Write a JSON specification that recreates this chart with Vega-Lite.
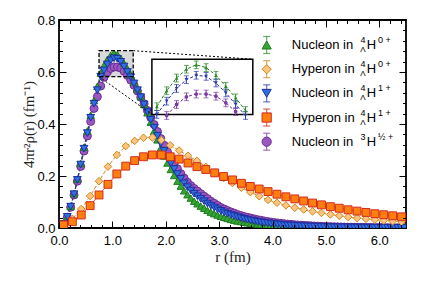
{
"$schema":"https://vega.github.io/schema/vega-lite/v6.json",
"width":347,"height":208,
"autosize":{"type":"none"},
"padding":{"left":59,"top":20,"right":15,"bottom":53},
"background":"white",
"config":{"view":{"stroke":"black","strokeWidth":1.8},
 "axis":{"domain":false,"grid":false,"zindex":1,"labelFont":"Liberation Sans","labelFontSize":13,"labelColor":"black","tickColor":"black","tickWidth":1,"labelOverlap":false,"labelFlush":false,"labelBound":false,"titleFont":"Liberation Serif","titleFontSize":15,"titleFontWeight":"normal","titleColor":"#222"}},
"datasets":{
"box":[{"x1":0.75,"x2":1.39,"y1":0.582,"y2":0.682}],
"con":[{"g":"a","r":0.75,"v":0.582},{"g":"a","r":1.74,"v":0.437},{"g":"b","r":1.39,"v":0.682},{"g":"b","r":3.63,"v":0.649}],
"leg":[{"s":"g","t":"Nucleon in","a":"4","b":"Λ","c":"0 +"},{"s":"d","t":"Hyperon in","a":"4","b":"Λ","c":"0 +"},{"s":"b","t":"Nucleon in","a":"4","b":"Λ","c":"1 +"},{"s":"q","t":"Hyperon in","a":"4","b":"Λ","c":"1 +"},{"s":"p","t":"Nucleon in","a":"3","b":"","c":"½ +"}],
"ins":[
{"s":"g","r":0.7813,"v":0.596,"e":0.007},{"s":"g","r":0.8438,"v":0.625,"e":0.007},{"s":"g","r":0.9063,"v":0.648,"e":0.007},{"s":"g","r":0.9688,"v":0.664,"e":0.007},{"s":"g","r":1.0313,"v":0.672,"e":0.007},{"s":"g","r":1.0938,"v":0.667,"e":0.007},{"s":"g","r":1.1563,"v":0.653,"e":0.007},{"s":"g","r":1.2188,"v":0.633,"e":0.007},{"s":"g","r":1.2813,"v":0.612,"e":0.007},{"s":"g","r":1.3438,"v":0.589,"e":0.007},
{"s":"b","r":0.7813,"v":0.582,"e":0.007},{"s":"b","r":0.8438,"v":0.606,"e":0.007},{"s":"b","r":0.9063,"v":0.629,"e":0.007},{"s":"b","r":0.9688,"v":0.645,"e":0.007},{"s":"b","r":1.0313,"v":0.653,"e":0.007},{"s":"b","r":1.0938,"v":0.651,"e":0.007},{"s":"b","r":1.1563,"v":0.639,"e":0.007},{"s":"b","r":1.2188,"v":0.621,"e":0.007},{"s":"b","r":1.2813,"v":0.6,"e":0.007},{"s":"b","r":1.3438,"v":0.58,"e":0.007},
{"s":"p","r":0.8438,"v":0.58,"e":0.007},{"s":"p","r":0.9063,"v":0.6,"e":0.007},{"s":"p","r":0.9688,"v":0.614,"e":0.007},{"s":"p","r":1.0313,"v":0.619,"e":0.007},{"s":"p","r":1.0938,"v":0.619,"e":0.007},{"s":"p","r":1.1563,"v":0.615,"e":0.007},{"s":"p","r":1.2188,"v":0.603,"e":0.007},{"s":"p","r":1.2813,"v":0.587,"e":0.007}
],
"m":[
{"s":"p","r":0.0313,"v":0.002},{"s":"p","r":0.0938,"v":0.015},{"s":"p","r":0.1563,"v":0.041},{"s":"p","r":0.2188,"v":0.08},{"s":"p","r":0.2813,"v":0.127},{"s":"p","r":0.3438,"v":0.18},{"s":"p","r":0.4063,"v":0.237},{"s":"p","r":0.4688,"v":0.296},{"s":"p","r":0.5313,"v":0.354},{"s":"p","r":0.5938,"v":0.41},
{"s":"p","r":0.6563,"v":0.46},{"s":"p","r":0.7188,"v":0.505},{"s":"p","r":0.7813,"v":0.546},{"s":"p","r":0.8438,"v":0.58},{"s":"p","r":0.9063,"v":0.6},{"s":"p","r":0.9688,"v":0.614},{"s":"p","r":1.0313,"v":0.619},{"s":"p","r":1.0938,"v":0.619},{"s":"p","r":1.1563,"v":0.615},{"s":"p","r":1.2188,"v":0.603},
{"s":"p","r":1.2813,"v":0.587},{"s":"p","r":1.3438,"v":0.569},{"s":"p","r":1.4063,"v":0.549},{"s":"p","r":1.4688,"v":0.527},{"s":"p","r":1.5313,"v":0.503},{"s":"p","r":1.5938,"v":0.478},{"s":"p","r":1.6563,"v":0.452},{"s":"p","r":1.7188,"v":0.425},{"s":"p","r":1.7813,"v":0.398},{"s":"p","r":1.8438,"v":0.371},
{"s":"p","r":1.9063,"v":0.344},{"s":"p","r":1.9688,"v":0.318},{"s":"p","r":2.0313,"v":0.293},{"s":"p","r":2.0938,"v":0.27},{"s":"p","r":2.1563,"v":0.248},{"s":"p","r":2.2188,"v":0.228},{"s":"p","r":2.2813,"v":0.209},{"s":"p","r":2.3438,"v":0.192},{"s":"p","r":2.4063,"v":0.176},{"s":"p","r":2.4688,"v":0.163},
{"s":"p","r":2.5313,"v":0.152},{"s":"p","r":2.5938,"v":0.142},{"s":"p","r":2.6563,"v":0.132},{"s":"p","r":2.7188,"v":0.122},{"s":"p","r":2.7813,"v":0.113},{"s":"p","r":2.8438,"v":0.103},{"s":"p","r":2.9063,"v":0.095},{"s":"p","r":2.9688,"v":0.087},{"s":"p","r":3.0313,"v":0.079},{"s":"p","r":3.0938,"v":0.073},
{"s":"p","r":3.1563,"v":0.067},{"s":"p","r":3.2188,"v":0.062},{"s":"p","r":3.2813,"v":0.057},{"s":"p","r":3.3438,"v":0.052},{"s":"p","r":3.4063,"v":0.048},{"s":"p","r":3.4688,"v":0.044},{"s":"p","r":3.5313,"v":0.041},{"s":"p","r":3.5938,"v":0.038},{"s":"p","r":3.6563,"v":0.035},{"s":"p","r":3.7188,"v":0.032},
{"s":"p","r":3.7813,"v":0.03},{"s":"p","r":3.8438,"v":0.027},{"s":"p","r":3.9063,"v":0.025},{"s":"p","r":3.9688,"v":0.023},{"s":"p","r":4.0313,"v":0.021},{"s":"p","r":4.0938,"v":0.0195},{"s":"p","r":4.1563,"v":0.018},{"s":"p","r":4.2188,"v":0.0165},{"s":"p","r":4.2813,"v":0.015},{"s":"p","r":4.3438,"v":0.014},
{"s":"p","r":4.4063,"v":0.0128},{"s":"p","r":4.4688,"v":0.0118},{"s":"p","r":4.5313,"v":0.0108},{"s":"p","r":4.5938,"v":0.01},{"s":"p","r":4.6563,"v":0.0092},{"s":"p","r":4.7188,"v":0.0085},{"s":"p","r":4.7813,"v":0.0078},{"s":"p","r":4.8438,"v":0.0072},{"s":"p","r":4.9063,"v":0.0066},{"s":"p","r":4.9688,"v":0.0061},
{"s":"p","r":5.0313,"v":0.0056},{"s":"p","r":5.0938,"v":0.0052},{"s":"p","r":5.1563,"v":0.0048},{"s":"p","r":5.2188,"v":0.0044},{"s":"p","r":5.2813,"v":0.004},{"s":"p","r":5.3438,"v":0.0037},{"s":"p","r":5.4063,"v":0.0034},{"s":"p","r":5.4688,"v":0.0031},{"s":"p","r":5.5313,"v":0.0029},{"s":"p","r":5.5938,"v":0.0027},
{"s":"p","r":5.6563,"v":0.0025},{"s":"p","r":5.7188,"v":0.0023},{"s":"p","r":5.7813,"v":0.0021},{"s":"p","r":5.8438,"v":0.0019},{"s":"p","r":5.9063,"v":0.0018},{"s":"p","r":5.9688,"v":0.0016},{"s":"p","r":6.0313,"v":0.0015},{"s":"p","r":6.0938,"v":0.0014},{"s":"p","r":6.1563,"v":0.0013},{"s":"p","r":6.2188,"v":0.0012},
{"s":"p","r":6.2813,"v":0.0011},{"s":"p","r":6.3438,"v":0.001},{"s":"p","r":6.4063,"v":0.0009},{"s":"p","r":6.4688,"v":0.0008},
{"s":"g","r":0.0313,"v":0.002},{"s":"g","r":0.0938,"v":0.016},{"s":"g","r":0.1563,"v":0.043},{"s":"g","r":0.2188,"v":0.083},{"s":"g","r":0.2813,"v":0.132},{"s":"g","r":0.3438,"v":0.188},{"s":"g","r":0.4063,"v":0.248},{"s":"g","r":0.4688,"v":0.311},{"s":"g","r":0.5313,"v":0.373},{"s":"g","r":0.5938,"v":0.434},
{"s":"g","r":0.6563,"v":0.49},{"s":"g","r":0.7188,"v":0.545},{"s":"g","r":0.7813,"v":0.596},{"s":"g","r":0.8438,"v":0.625},{"s":"g","r":0.9063,"v":0.648},{"s":"g","r":0.9688,"v":0.664},{"s":"g","r":1.0313,"v":0.672},{"s":"g","r":1.0938,"v":0.667},{"s":"g","r":1.1563,"v":0.653},{"s":"g","r":1.2188,"v":0.633},
{"s":"g","r":1.2813,"v":0.612},{"s":"g","r":1.3438,"v":0.589},{"s":"g","r":1.4063,"v":0.562},{"s":"g","r":1.4688,"v":0.535},{"s":"g","r":1.5313,"v":0.505},{"s":"g","r":1.5938,"v":0.475},{"s":"g","r":1.6563,"v":0.443},{"s":"g","r":1.7188,"v":0.407},{"s":"g","r":1.7813,"v":0.372},{"s":"g","r":1.8438,"v":0.339},
{"s":"g","r":1.9063,"v":0.307},{"s":"g","r":1.9688,"v":0.277},{"s":"g","r":2.0313,"v":0.25},{"s":"g","r":2.0938,"v":0.225},{"s":"g","r":2.1563,"v":0.202},{"s":"g","r":2.2188,"v":0.18},{"s":"g","r":2.2813,"v":0.161},{"s":"g","r":2.3438,"v":0.143},{"s":"g","r":2.4063,"v":0.128},{"s":"g","r":2.4688,"v":0.115},
{"s":"g","r":2.5313,"v":0.103},{"s":"g","r":2.5938,"v":0.093},{"s":"g","r":2.6563,"v":0.084},{"s":"g","r":2.7188,"v":0.076},{"s":"g","r":2.7813,"v":0.068},{"s":"g","r":2.8438,"v":0.061},{"s":"g","r":2.9063,"v":0.055},{"s":"g","r":2.9688,"v":0.05},{"s":"g","r":3.0313,"v":0.045},{"s":"g","r":3.0938,"v":0.041},
{"s":"g","r":3.1563,"v":0.037},{"s":"g","r":3.2188,"v":0.033},{"s":"g","r":3.2813,"v":0.03},{"s":"g","r":3.3438,"v":0.027},{"s":"g","r":3.4063,"v":0.025},{"s":"g","r":3.4688,"v":0.022},{"s":"g","r":3.5313,"v":0.02},{"s":"g","r":3.5938,"v":0.018},{"s":"g","r":3.6563,"v":0.0165},{"s":"g","r":3.7188,"v":0.015},
{"s":"g","r":3.7813,"v":0.0135},{"s":"g","r":3.8438,"v":0.0122},{"s":"g","r":3.9063,"v":0.011},{"s":"g","r":3.9688,"v":0.01},{"s":"g","r":4.0313,"v":0.009},{"s":"g","r":4.0938,"v":0.0082},{"s":"g","r":4.1563,"v":0.0074},{"s":"g","r":4.2188,"v":0.0067},{"s":"g","r":4.2813,"v":0.006},{"s":"g","r":4.3438,"v":0.0054},
{"s":"g","r":4.4063,"v":0.0049},{"s":"g","r":4.4688,"v":0.0044},{"s":"g","r":4.5313,"v":0.004},{"s":"g","r":4.5938,"v":0.0036},{"s":"g","r":4.6563,"v":0.0033},{"s":"g","r":4.7188,"v":0.003},{"s":"g","r":4.7813,"v":0.0027},{"s":"g","r":4.8438,"v":0.0024},{"s":"g","r":4.9063,"v":0.0022},{"s":"g","r":4.9688,"v":0.002},
{"s":"g","r":5.0313,"v":0.0018},{"s":"g","r":5.0938,"v":0.0016},{"s":"g","r":5.1563,"v":0.0015},{"s":"g","r":5.2188,"v":0.0013},{"s":"g","r":5.2813,"v":0.0012},{"s":"g","r":5.3438,"v":0.0011},{"s":"g","r":5.4063,"v":0.001},{"s":"g","r":5.4688,"v":0.0009},{"s":"g","r":5.5313,"v":0.0008},{"s":"g","r":5.5938,"v":0.0008},
{"s":"g","r":5.6563,"v":0.0007},{"s":"g","r":5.7188,"v":0.0006},{"s":"g","r":5.7813,"v":0.0006},{"s":"g","r":5.8438,"v":0.0005},{"s":"g","r":5.9063,"v":0.0005},{"s":"g","r":5.9688,"v":0.0004},{"s":"g","r":6.0313,"v":0.0004},{"s":"g","r":6.0938,"v":0.0004},{"s":"g","r":6.1563,"v":0.0003},{"s":"g","r":6.2188,"v":0.0003},
{"s":"g","r":6.2813,"v":0.0003},{"s":"g","r":6.3438,"v":0.0002},{"s":"g","r":6.4063,"v":0.0002},{"s":"g","r":6.4688,"v":0.0002},
{"s":"b","r":0.0313,"v":0.002},{"s":"b","r":0.0938,"v":0.016},{"s":"b","r":0.1563,"v":0.043},{"s":"b","r":0.2188,"v":0.082},{"s":"b","r":0.2813,"v":0.13},{"s":"b","r":0.3438,"v":0.185},{"s":"b","r":0.4063,"v":0.244},{"s":"b","r":0.4688,"v":0.305},{"s":"b","r":0.5313,"v":0.365},{"s":"b","r":0.5938,"v":0.424},
{"s":"b","r":0.6563,"v":0.478},{"s":"b","r":0.7188,"v":0.53},{"s":"b","r":0.7813,"v":0.582},{"s":"b","r":0.8438,"v":0.606},{"s":"b","r":0.9063,"v":0.629},{"s":"b","r":0.9688,"v":0.645},{"s":"b","r":1.0313,"v":0.653},{"s":"b","r":1.0938,"v":0.651},{"s":"b","r":1.1563,"v":0.639},{"s":"b","r":1.2188,"v":0.621},
{"s":"b","r":1.2813,"v":0.6},{"s":"b","r":1.3438,"v":0.58},{"s":"b","r":1.4063,"v":0.556},{"s":"b","r":1.4688,"v":0.53},{"s":"b","r":1.5313,"v":0.503},{"s":"b","r":1.5938,"v":0.475},{"s":"b","r":1.6563,"v":0.446},{"s":"b","r":1.7188,"v":0.416},{"s":"b","r":1.7813,"v":0.386},{"s":"b","r":1.8438,"v":0.355},
{"s":"b","r":1.9063,"v":0.325},{"s":"b","r":1.9688,"v":0.297},{"s":"b","r":2.0313,"v":0.271},{"s":"b","r":2.0938,"v":0.248},{"s":"b","r":2.1563,"v":0.227},{"s":"b","r":2.2188,"v":0.207},{"s":"b","r":2.2813,"v":0.189},{"s":"b","r":2.3438,"v":0.172},{"s":"b","r":2.4063,"v":0.157},{"s":"b","r":2.4688,"v":0.144},
{"s":"b","r":2.5313,"v":0.132},{"s":"b","r":2.5938,"v":0.122},{"s":"b","r":2.6563,"v":0.112},{"s":"b","r":2.7188,"v":0.103},{"s":"b","r":2.7813,"v":0.094},{"s":"b","r":2.8438,"v":0.086},{"s":"b","r":2.9063,"v":0.079},{"s":"b","r":2.9688,"v":0.072},{"s":"b","r":3.0313,"v":0.066},{"s":"b","r":3.0938,"v":0.06},
{"s":"b","r":3.1563,"v":0.055},{"s":"b","r":3.2188,"v":0.05},{"s":"b","r":3.2813,"v":0.046},{"s":"b","r":3.3438,"v":0.042},{"s":"b","r":3.4063,"v":0.038},{"s":"b","r":3.4688,"v":0.035},{"s":"b","r":3.5313,"v":0.032},{"s":"b","r":3.5938,"v":0.029},{"s":"b","r":3.6563,"v":0.0265},{"s":"b","r":3.7188,"v":0.024},
{"s":"b","r":3.7813,"v":0.022},{"s":"b","r":3.8438,"v":0.02},{"s":"b","r":3.9063,"v":0.0183},{"s":"b","r":3.9688,"v":0.0167},{"s":"b","r":4.0313,"v":0.0152},{"s":"b","r":4.0938,"v":0.0139},{"s":"b","r":4.1563,"v":0.0127},{"s":"b","r":4.2188,"v":0.0116},{"s":"b","r":4.2813,"v":0.0106},{"s":"b","r":4.3438,"v":0.0097},
{"s":"b","r":4.4063,"v":0.0088},{"s":"b","r":4.4688,"v":0.008},{"s":"b","r":4.5313,"v":0.0073},{"s":"b","r":4.5938,"v":0.0067},{"s":"b","r":4.6563,"v":0.0061},{"s":"b","r":4.7188,"v":0.0056},{"s":"b","r":4.7813,"v":0.0051},{"s":"b","r":4.8438,"v":0.0047},{"s":"b","r":4.9063,"v":0.0043},{"s":"b","r":4.9688,"v":0.0039},
{"s":"b","r":5.0313,"v":0.0036},{"s":"b","r":5.0938,"v":0.0033},{"s":"b","r":5.1563,"v":0.003},{"s":"b","r":5.2188,"v":0.0027},{"s":"b","r":5.2813,"v":0.0025},{"s":"b","r":5.3438,"v":0.0023},{"s":"b","r":5.4063,"v":0.0021},{"s":"b","r":5.4688,"v":0.0019},{"s":"b","r":5.5313,"v":0.0017},{"s":"b","r":5.5938,"v":0.0016},
{"s":"b","r":5.6563,"v":0.0015},{"s":"b","r":5.7188,"v":0.0013},{"s":"b","r":5.7813,"v":0.0012},{"s":"b","r":5.8438,"v":0.0011},{"s":"b","r":5.9063,"v":0.001},{"s":"b","r":5.9688,"v":0.0009},{"s":"b","r":6.0313,"v":0.0008},{"s":"b","r":6.0938,"v":0.0008},{"s":"b","r":6.1563,"v":0.0007},{"s":"b","r":6.2188,"v":0.0007},
{"s":"b","r":6.2813,"v":0.0006},{"s":"b","r":6.3438,"v":0.0006},{"s":"b","r":6.4063,"v":0.0005},{"s":"b","r":6.4688,"v":0.0005},
{"s":"d","r":0.0833,"v":0.008},{"s":"d","r":0.25,"v":0.035},{"s":"d","r":0.4167,"v":0.073},{"s":"d","r":0.5833,"v":0.123},{"s":"d","r":0.75,"v":0.18},{"s":"d","r":0.9167,"v":0.236},{"s":"d","r":1.0833,"v":0.281},{"s":"d","r":1.25,"v":0.315},{"s":"d","r":1.4167,"v":0.335},{"s":"d","r":1.5833,"v":0.347},
{"s":"d","r":1.75,"v":0.348},{"s":"d","r":1.9167,"v":0.338},{"s":"d","r":2.0833,"v":0.318},{"s":"d","r":2.25,"v":0.298},{"s":"d","r":2.4167,"v":0.278},{"s":"d","r":2.5833,"v":0.258},{"s":"d","r":2.75,"v":0.235},{"s":"d","r":2.9167,"v":0.213},{"s":"d","r":3.0833,"v":0.192},{"s":"d","r":3.25,"v":0.173},
{"s":"d","r":3.4167,"v":0.155},{"s":"d","r":3.5833,"v":0.138},{"s":"d","r":3.75,"v":0.122},{"s":"d","r":3.9167,"v":0.108},{"s":"d","r":4.0833,"v":0.097},{"s":"d","r":4.25,"v":0.087},{"s":"d","r":4.4167,"v":0.078},{"s":"d","r":4.5833,"v":0.071},{"s":"d","r":4.75,"v":0.064},{"s":"d","r":4.9167,"v":0.058},
{"s":"d","r":5.0833,"v":0.052},{"s":"d","r":5.25,"v":0.047},{"s":"d","r":5.4167,"v":0.042},{"s":"d","r":5.5833,"v":0.038},{"s":"d","r":5.75,"v":0.035},{"s":"d","r":5.9167,"v":0.032},{"s":"d","r":6.0833,"v":0.029},{"s":"d","r":6.25,"v":0.026},{"s":"d","r":6.4167,"v":0.024},
{"s":"q","r":0.0833,"v":0.012},{"s":"q","r":0.25,"v":0.024},{"s":"q","r":0.4167,"v":0.05},{"s":"q","r":0.5833,"v":0.086},{"s":"q","r":0.75,"v":0.127},{"s":"q","r":0.9167,"v":0.168},{"s":"q","r":1.0833,"v":0.208},{"s":"q","r":1.25,"v":0.238},{"s":"q","r":1.4167,"v":0.259},{"s":"q","r":1.5833,"v":0.274},
{"s":"q","r":1.75,"v":0.281},{"s":"q","r":1.9167,"v":0.281},{"s":"q","r":2.0833,"v":0.274},{"s":"q","r":2.25,"v":0.265},{"s":"q","r":2.4167,"v":0.25},{"s":"q","r":2.5833,"v":0.236},{"s":"q","r":2.75,"v":0.225},{"s":"q","r":2.9167,"v":0.212},{"s":"q","r":3.0833,"v":0.198},{"s":"q","r":3.25,"v":0.185},
{"s":"q","r":3.4167,"v":0.172},{"s":"q","r":3.5833,"v":0.16},{"s":"q","r":3.75,"v":0.15},{"s":"q","r":3.9167,"v":0.14},{"s":"q","r":4.0833,"v":0.13},{"s":"q","r":4.25,"v":0.12},{"s":"q","r":4.4167,"v":0.112},{"s":"q","r":4.5833,"v":0.104},{"s":"q","r":4.75,"v":0.096},{"s":"q","r":4.9167,"v":0.089},
{"s":"q","r":5.0833,"v":0.082},{"s":"q","r":5.25,"v":0.076},{"s":"q","r":5.4167,"v":0.07},{"s":"q","r":5.5833,"v":0.065},{"s":"q","r":5.75,"v":0.06},{"s":"q","r":5.9167,"v":0.055},{"s":"q","r":6.0833,"v":0.051},{"s":"q","r":6.25,"v":0.047},{"s":"q","r":6.4167,"v":0.043}
]},
"layer":[
{"data":{"name":"box"},
 "mark":{"type":"rect","fill":"#d9d9d9","strokeWidth":0},
 "encoding":{
  "x":{"field":"x1","type":"quantitative","scale":{"domain":[0,6.5],"nice":false,"zero":false},
   "axis":{"orient":"top","values":[0,1,2,3,4,5,6],"labels":false,"title":null,"zindex":1,"tickSize":7,"offset":-7}},
  "x2":{"field":"x2"},
  "y":{"field":"y1","type":"quantitative","scale":{"domain":[0,0.8],"nice":false,"zero":false},
   "axis":{"orient":"right","values":[0,0.2,0.4,0.6,0.8],"labels":false,"title":null,"zindex":1,"tickSize":7,"offset":-7}},
  "y2":{"field":"y2"}}},
{"data":{"name":"box"},
 "mark":{"type":"rect","opacity":0},
 "encoding":{
  "x":{"field":"x1","type":"quantitative","scale":{"domain":[0,6.5],"nice":false,"zero":false},
   "axis":{"orient":"top","values":[0.2,0.4,0.6,0.8,1.2,1.4,1.6,1.8,2.2,2.4,2.6,2.8,3.2,3.4,3.6,3.8,4.2,4.4,4.6,4.8,5.2,5.4,5.6,5.8,6.2,6.4],"labels":false,"title":null,"zindex":1,"tickSize":3.5,"offset":-3.5}},
  "x2":{"field":"x2"},
  "y":{"field":"y1","type":"quantitative","scale":{"domain":[0,0.8],"nice":false,"zero":false},
   "axis":{"orient":"right","values":[0.04,0.08,0.12,0.16,0.24,0.28,0.32,0.36,0.44,0.48,0.52,0.56,0.64,0.68,0.72,0.76],"labels":false,"title":null,"zindex":1,"tickSize":3.5,"offset":-3.5}},
  "y2":{"field":"y2"}}},
{"data":{"name":"box"},
 "mark":{"type":"rect","opacity":0},
 "encoding":{
  "x":{"field":"x1","type":"quantitative","scale":{"domain":[0,6.5],"nice":false,"zero":false},
   "axis":{"orient":"bottom","values":[0.2,0.4,0.6,0.8,1.2,1.4,1.6,1.8,2.2,2.4,2.6,2.8,3.2,3.4,3.6,3.8,4.2,4.4,4.6,4.8,5.2,5.4,5.6,5.8,6.2,6.4],"labels":false,"title":null,"zindex":1,"tickSize":3.5,"offset":-3.5}},
  "x2":{"field":"x2"},
  "y":{"field":"y1","type":"quantitative","scale":{"domain":[0,0.8],"nice":false,"zero":false},
   "axis":{"orient":"left","values":[0.04,0.08,0.12,0.16,0.24,0.28,0.32,0.36,0.44,0.48,0.52,0.56,0.64,0.68,0.72,0.76],"labels":false,"title":null,"zindex":1,"tickSize":3.5,"offset":-3.5}},
  "y2":{"field":"y2"}}},
{"layer":[
 {"data":{"name":"m"},
  "mark":{"type":"line","strokeWidth":1,"clip":true},
  "encoding":{
   "x":{"field":"r","type":"quantitative","scale":{"domain":[0,6.5],"nice":false,"zero":false},
    "axis":{"orient":"bottom","values":[0,1,2,3,4,5,6],"format":".1f","zindex":1,"tickSize":7,"offset":-7,
     "labelPadding":6,"title":"r (fm)","titlePadding":2}},
   "y":{"field":"v","type":"quantitative","scale":{"domain":[0,0.8],"nice":false,"zero":false},
    "axis":{"orient":"left","values":[0,0.2,0.4,0.6,0.8],"format":".1f","zindex":1,"tickSize":7,"offset":-7,
     "labelPadding":4,"title":"4πr²ρ(r) (fm⁻¹)","titlePadding":0}},
   "detail":{"field":"s"},
   "stroke":{"field":"s","type":"nominal","scale":{"domain":["g","d","b","q","p"],"range":["#1f7a1f","#c98a1c","#1f2f9f","#d42a1e","#6b2d92"]},"legend":null},
   "strokeDash":{"field":"s","type":"nominal","scale":{"domain":["g","d","b","q","p"],"range":[[4,2],[4,2],[4,2],[1,0],[4,2]]},"legend":null}}},
 {"data":{"name":"m"},
  "mark":{"type":"point","filled":true,"opacity":1,"strokeWidth":1,"clip":true},
  "encoding":{
   "x":{"field":"r","type":"quantitative"},
   "y":{"field":"v","type":"quantitative"},
   "shape":{"field":"s","type":"nominal","scale":{"domain":["g","d","b","q","p"],"range":["triangle-up","diamond","triangle-down","square","circle"]},"legend":null},
   "fill":{"field":"s","type":"nominal","scale":{"domain":["g","d","b","q","p"],"range":["#33a633","#ffc47f","#2f6fe0","#ff7f0e","#9a58c2"]},"legend":null},
   "stroke":{"field":"s","type":"nominal","scale":{"domain":["g","d","b","q","p"],"range":["#1f7a1f","#c98a1c","#1f2f9f","#d42a1e","#6b2d92"]},"legend":null},
   "size":{"field":"s","type":"nominal","scale":{"domain":["g","d","b","q","p"],"range":[55,64,55,48,48]},"legend":null}}},
 {"data":{"name":"box"},
  "mark":{"type":"rect","fill":null,"fillOpacity":0,"stroke":"black","strokeWidth":1.3,"strokeDash":[4,2]},
  "encoding":{"x":{"field":"x1","type":"quantitative"},"x2":{"field":"x2"},"y":{"field":"y1","type":"quantitative"},"y2":{"field":"y2"}}},
 {"data":{"name":"con"},
  "mark":{"type":"line","color":"black","strokeWidth":1,"strokeDash":[2,2]},
  "encoding":{"x":{"field":"r","type":"quantitative"},"y":{"field":"v","type":"quantitative"},"detail":{"field":"g"}}}
]},
{"layer":[
 {"data":{"name":"box"},
  "mark":{"type":"rect","fill":"white","stroke":"black","strokeWidth":1.5},
  "encoding":{
   "x":{"field":"x1","type":"quantitative","scale":{"domain":[0.75,1.39],"range":[92.9,193.8],"nice":false,"zero":false},"axis":null},
   "x2":{"field":"x2"},
   "y":{"field":"y1","type":"quantitative","scale":{"domain":[0.582,0.682],"range":[94.4,39.3],"nice":false,"zero":false},"axis":null},
   "y2":{"field":"y2"}}},
 {"data":{"name":"ins"},
  "mark":{"type":"line","strokeWidth":1,"strokeDash":[3,2]},
  "encoding":{"x":{"field":"r","type":"quantitative"},"y":{"field":"v","type":"quantitative"},"detail":{"field":"s"},
   "stroke":{"field":"s","type":"nominal","scale":{"domain":["g","d","b","q","p"],"range":["#1f7a1f","#c98a1c","#1f2f9f","#d42a1e","#6b2d92"]},"legend":null}}},
 {"data":{"name":"ins"},
  "mark":{"type":"errorbar","ticks":{"size":5},"thickness":1},
  "encoding":{"x":{"field":"r","type":"quantitative"},"y":{"field":"v","type":"quantitative"},"yError":{"field":"e"},
   "color":{"field":"s","type":"nominal","scale":{"domain":["g","d","b","q","p"],"range":["#2a8a2a","#c98a1c","#2a3ab0","#d42a1e","#7a3aa0"]},"legend":null}}},
 {"data":{"name":"ins"},
  "mark":{"type":"point","filled":true,"opacity":1,"size":14},
  "encoding":{"x":{"field":"r","type":"quantitative"},"y":{"field":"v","type":"quantitative"},
   "shape":{"field":"s","type":"nominal","scale":{"domain":["g","d","b","q","p"],"range":["triangle-up","diamond","triangle-down","square","circle"]},"legend":null},
   "color":{"field":"s","type":"nominal","scale":{"domain":["g","d","b","q","p"],"range":["#2a8a2a","#c98a1c","#2a3ab0","#d42a1e","#7a3aa0"]},"legend":null}}}
]},
{"data":{"name":"leg"},
 "encoding":{"y":{"field":"s","type":"nominal","scale":{"type":"point","domain":["g","d","b","q","p"],"range":[25,121.7],"padding":0},"axis":null}},
 "layer":[
  {"mark":{"type":"tick","orient":"vertical","size":17,"thickness":1.2},
   "encoding":{"x":{"datum":3.89,"type":"quantitative","scale":{"domain":[0,6.5],"nice":false,"zero":false},"axis":null},
    "color":{"field":"s","type":"nominal","scale":{"domain":["g","d","b","q","p"],"range":["#2a8a2a","#c98a1c","#2a3ab0","#d42a1e","#7a3aa0"]},"legend":null}}},
  {"mark":{"type":"tick","orient":"horizontal","size":7,"thickness":1.2,"yOffset":-8.5},
   "encoding":{"x":{"datum":3.89,"type":"quantitative"},"color":{"field":"s","type":"nominal","legend":null}}},
  {"mark":{"type":"tick","orient":"horizontal","size":7,"thickness":1.2,"yOffset":8.5},
   "encoding":{"x":{"datum":3.89,"type":"quantitative"},"color":{"field":"s","type":"nominal","legend":null}}},
  {"mark":{"type":"point","filled":true,"opacity":1,"strokeWidth":1,"size":85},
   "encoding":{"x":{"datum":3.89,"type":"quantitative"},
    "shape":{"field":"s","type":"nominal","legend":null},
    "fill":{"field":"s","type":"nominal","legend":null},
    "stroke":{"field":"s","type":"nominal","legend":null}}},
  {"mark":{"type":"text","align":"left","baseline":"middle","font":"Liberation Sans","fontSize":13,"color":"black"},
   "encoding":{"x":{"datum":4.36,"type":"quantitative"},"text":{"field":"t"}}},
  {"mark":{"type":"text","align":"center","baseline":"middle","font":"Liberation Sans","fontSize":9,"color":"black","dy":-5},
   "encoding":{"x":{"datum":5.695,"type":"quantitative"},"text":{"field":"a"}}},
  {"mark":{"type":"text","align":"center","baseline":"middle","font":"Liberation Sans","fontSize":8,"color":"black","dy":5},
   "encoding":{"x":{"datum":5.695,"type":"quantitative"},"text":{"field":"b"}}},
  {"mark":{"type":"text","align":"left","baseline":"middle","font":"Liberation Sans","fontSize":13,"color":"black"},
   "encoding":{"x":{"datum":5.764,"type":"quantitative"},"text":{"value":"H"}}},
  {"mark":{"type":"text","align":"left","baseline":"middle","font":"Liberation Sans","fontSize":9,"color":"black","dy":-5},
   "encoding":{"x":{"datum":5.976,"type":"quantitative"},"text":{"field":"c"}}}
 ]}
],
"resolve":{"scale":{"x":"independent","y":"independent"},"axis":{"x":"independent","y":"independent"}}
}
